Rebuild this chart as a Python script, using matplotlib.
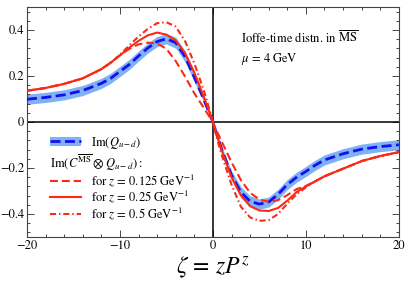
import matplotlib
matplotlib.use("Agg")
import matplotlib.pyplot as plt
from matplotlib.lines import Line2D
from matplotlib.patches import Patch
from matplotlib.ticker import MultipleLocator, FixedLocator
import numpy as np

plt.rcParams['mathtext.fontset'] = 'stix'
plt.rcParams['font.family'] = ['STIXGeneral', 'DejaVu Serif']

# ---- data ----
zeta = [-20, -18, -16, -14, -12, -11, -10, -9, -8, -7, -6, -5, -4, -3, -2, -1, -0.5, 0,
        0.5, 1, 2, 3, 4, 5, 6, 7, 8, 9, 10, 11, 12, 14, 16, 18, 20]

im_q = [0.099, 0.107, 0.118, 0.137, 0.168, 0.190, 0.220, 0.250, 0.287, 0.322, 0.350, 0.362, 0.345,
        0.285, 0.195, 0.100, 0.050, 0.0,
        -0.065, -0.125, -0.232, -0.305, -0.345, -0.357, -0.348, -0.315, -0.272, -0.240,
        -0.215, -0.188, -0.165, -0.138, -0.118, -0.107, -0.099]
im_q_err = [0.022, 0.022, 0.022, 0.022, 0.022, 0.022, 0.022, 0.022, 0.022, 0.022, 0.022, 0.022,
            0.024, 0.024, 0.02, 0.012, 0.007, 0.002,
            0.007, 0.012, 0.02, 0.024, 0.024, 0.022, 0.022, 0.022, 0.022, 0.022,
            0.022, 0.022, 0.022, 0.022, 0.022, 0.022, 0.022]

conv_z0125 = [0.136, 0.148, 0.166, 0.190, 0.230, 0.258, 0.290, 0.318, 0.338, 0.345, 0.342, 0.318,
              0.265, 0.198, 0.125, 0.063, 0.031, 0.0,
              -0.047, -0.090, -0.175, -0.252, -0.308, -0.337, -0.347, -0.340, -0.318, -0.292,
              -0.278, -0.258, -0.236, -0.203, -0.170, -0.148, -0.131]
conv_z025 = [0.136, 0.148, 0.166, 0.190, 0.230, 0.258, 0.290, 0.323, 0.353, 0.377, 0.389, 0.380,
             0.355, 0.300, 0.215, 0.112, 0.057, 0.0,
             -0.068, -0.130, -0.240, -0.318, -0.366, -0.385, -0.387, -0.374, -0.342, -0.305,
             -0.280, -0.258, -0.236, -0.203, -0.170, -0.148, -0.131]
conv_z05 = [0.136, 0.148, 0.166, 0.190, 0.230, 0.258, 0.292, 0.333, 0.372, 0.405, 0.430, 0.434,
            0.415, 0.352, 0.255, 0.140, 0.072, 0.0,
            -0.082, -0.150, -0.272, -0.368, -0.415, -0.430, -0.427, -0.400, -0.355, -0.315,
            -0.284, -0.258, -0.236, -0.203, -0.170, -0.148, -0.131]

xticks = [-20, -10, 0, 10, 20]
xticklabels = ["\u221220", "\u221210", "0", "10", "20"]
yticks = [-0.4, -0.2, 0, 0.2, 0.4]
yticklabels = ["\u22120.4", "\u22120.2", "0", "0.2", "0.4"]

labels = [r"$\mathrm{Im}(Q_{u-d})$",
          r"$\mathrm{Im}(C^{\overline{\mathrm{MS}}}\otimes Q_{u-d}):$",
          r"for $z\,=\,0.125\ \mathrm{GeV}^{-1}$",
          r"for $z\,=\,0.25\ \mathrm{GeV}^{-1}$",
          r"for $z\,=\,0.5\ \mathrm{GeV}^{-1}$"]

blue = '#1010f0'
band = '#7fb1f4'
red = '#fa2a16'
blue_dash = (3.6, 1.6)
red_dash = (3.8, 1.9)
red_dashdot = (2.9, 1.4, 0.7, 1.4)

x = np.array(zeta)
yq = np.array(im_q)
err = np.array(im_q_err)

fig = plt.figure(figsize=(4.07, 2.94), dpi=100)
ax = fig.add_axes([0.0663, 0.194, 0.9137, 0.782])

ax.fill_between(x, yq - err, yq + err, color=band, lw=0, zorder=1)
ax.axhline(0, color='black', lw=1.1, zorder=2)
ax.axvline(0, color='black', lw=1.1, zorder=2)
ax.plot(x, yq, color=blue, lw=2.0, dashes=blue_dash, zorder=3)
ax.plot(x, conv_z0125, color=red, lw=1.5, dashes=red_dash, zorder=4)
ax.plot(x, conv_z025, color=red, lw=1.5, zorder=4)
ax.plot(x, conv_z05, color=red, lw=1.5, dashes=red_dashdot, zorder=4)

ax.set_xlim(-20, 20)
ax.set_ylim(-0.5, 0.5)
ax.xaxis.set_major_locator(FixedLocator(xticks))
ax.set_xticklabels(xticklabels)
ax.xaxis.set_minor_locator(MultipleLocator(2))
ax.yaxis.set_major_locator(FixedLocator(yticks))
ax.set_yticklabels(yticklabels)
ax.yaxis.set_minor_locator(MultipleLocator(0.04))
ax.tick_params(which='both', direction='in', top=True, right=True, color='#444444',
               labelsize=9, width=0.7)
ax.tick_params(which='major', length=5, pad=2)
ax.tick_params(which='minor', length=2.5)
for s in ax.spines.values():
    s.set_color('#444444')
    s.set_linewidth(0.8)

ax.set_xlabel(r"$\zeta\, =\, zP^{z}$", fontsize=17, labelpad=2)

ax.text(0.575, 0.843, r"Ioffe-time distn. in $\overline{\mathrm{MS}}$", transform=ax.transAxes,
        fontsize=9, va='baseline')
ax.text(0.575, 0.76, r"$\mu\,=\,4\ \mathrm{GeV}$", transform=ax.transAxes,
        fontsize=9, va='baseline')

h1 = (Patch(facecolor=band, edgecolor='none'), Line2D([], [], color=blue, lw=2.0, dashes=blue_dash))
leg1 = ax.legend([h1], [labels[0]], loc='upper left', bbox_to_anchor=(0.062, 0.445),
                 frameon=False, fontsize=9, handlelength=2.5, handletextpad=0.8,
                 borderpad=0, borderaxespad=0)
ax.add_artist(leg1)
hr = [Line2D([], [], color=red, lw=1.5, dashes=red_dash),
      Line2D([], [], color=red, lw=1.5),
      Line2D([], [], color=red, lw=1.5, dashes=red_dashdot)]
leg2 = ax.legend(hr, labels[2:], loc='upper left', bbox_to_anchor=(0.062, 0.368),
                 frameon=False, fontsize=9, handlelength=2.5, handletextpad=0.8,
                 borderpad=0, borderaxespad=0, labelspacing=0.0,
                 title=labels[1], title_fontsize=9, alignment='left')

fig.savefig("out.png", dpi=100)
